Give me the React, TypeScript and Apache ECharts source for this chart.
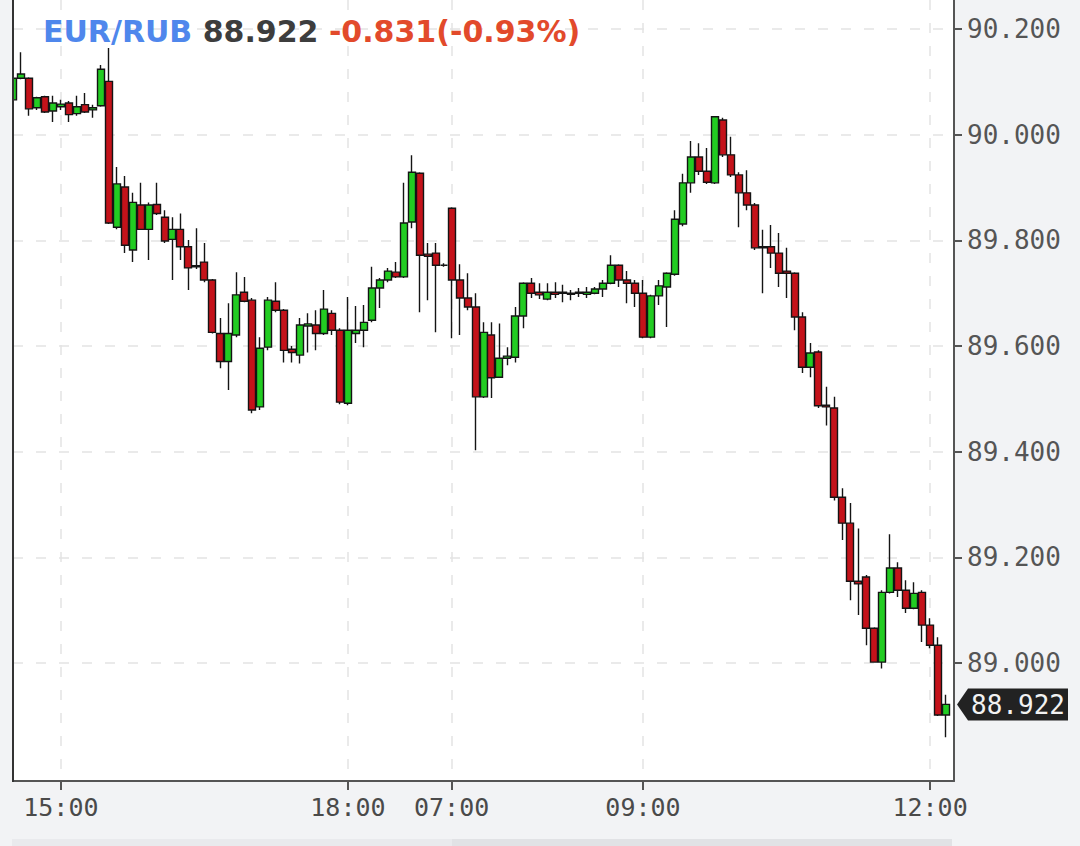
import React, { useEffect, useRef } from "react";
import * as echarts from "echarts";

// ---- data ----
const symbol = "EUR/RUB";
const prevClose = 89.753;
const sessions: [string, string][] = [
  ["14:30", "19:00"],
  ["07:00", "12:15"],
];
const tickLabels = ["15:00", "18:00", "07:00", "09:00", "12:00"];
const yTickValues = [89.0, 89.2, 89.4, 89.6, 89.8, 90.0, 90.2];
const yMin = 88.777;
const yMax = 90.255;

const opens = [
  90.066, 90.107, 90.107, 90.051, 90.072, 90.045, 90.053, 90.06, 90.04, 90.057,
  90.047, 90.055, 90.101, 89.825, 89.901, 89.782, 89.867, 89.821, 89.868, 89.844,
  89.802, 89.821, 89.788, 89.752, 89.759, 89.725, 89.624, 89.571, 89.621, 89.702,
  89.687, 89.485, 89.598, 89.685, 89.668, 89.594, 89.583, 89.638, 89.64, 89.624,
  89.662, 89.63, 89.492, 89.624, 89.63, 89.649, 89.71, 89.725, 89.74, 89.731,
  89.835, 89.927, 89.774, 89.776, 89.753, 89.861, 89.725, 89.691, 89.674, 89.504,
  89.621, 89.541, 89.577, 89.579, 89.657, 89.719, 89.702, 89.689, 89.702, 89.7,
  89.7, 89.7, 89.698, 89.7, 89.708, 89.719, 89.753, 89.725, 89.719, 89.7,
  89.617, 89.695, 89.712, 89.736, 89.831, 89.909, 89.958, 89.931, 89.909, 90.028,
  89.962, 89.924, 89.89, 89.867, 89.788, 89.788, 89.776, 89.742, 89.738, 89.655,
  89.56, 89.589, 89.488, 89.483, 89.314, 89.265, 89.155, 89.163, 89.066, 89.002,
  89.134, 89.18, 89.138, 89.104, 89.134, 89.072, 89.034, 88.902,
];
const closes = [
  90.107, 90.115, 90.049, 90.07, 90.043, 90.06, 90.058, 90.038, 90.053, 90.043,
  90.051, 90.124, 89.833, 89.907, 89.791, 89.872, 89.821, 89.867, 89.851, 89.799,
  89.821, 89.788, 89.748, 89.75, 89.725, 89.626, 89.571, 89.624, 89.697, 89.685,
  89.479, 89.596, 89.687, 89.668, 89.592, 89.588, 89.64, 89.642, 89.624, 89.67,
  89.63, 89.494, 89.63, 89.63, 89.645, 89.71, 89.725, 89.742, 89.731, 89.833,
  89.929, 89.772, 89.77, 89.753, 89.753, 89.725, 89.691, 89.674, 89.504, 89.626,
  89.54, 89.577, 89.581, 89.657, 89.719, 89.7, 89.697, 89.702, 89.698, 89.702,
  89.698, 89.702, 89.702, 89.708, 89.719, 89.753, 89.725, 89.719, 89.7, 89.617,
  89.695, 89.714, 89.738, 89.84, 89.909, 89.958, 89.931, 89.91, 90.034, 89.962,
  89.924, 89.89, 89.867, 89.786, 89.786, 89.776, 89.738, 89.738, 89.655, 89.56,
  89.587, 89.487, 89.485, 89.314, 89.265, 89.155, 89.15, 89.066, 89.002, 89.134,
  89.18, 89.138, 89.104, 89.132, 89.072, 89.034, 88.902, 88.922,
];
const highs = [
  90.118, 90.156, 90.109, 90.072, 90.074, 90.074, 90.066, 90.064, 90.074, 90.079,
  90.057, 90.132, 90.164, 89.939, 89.922, 89.89, 89.909, 89.872, 89.909, 89.857,
  89.844, 89.851, 89.801, 89.823, 89.795, 89.727, 89.653, 89.681, 89.74, 89.731,
  89.691, 89.617, 89.693, 89.721, 89.67, 89.6, 89.653, 89.662, 89.668, 89.706,
  89.668, 89.634, 89.693, 89.676, 89.678, 89.75, 89.729, 89.748, 89.759, 89.909,
  89.961, 89.929, 89.795, 89.795, 89.757, 89.863, 89.755, 89.738, 89.7, 89.645,
  89.645, 89.643, 89.598, 89.674, 89.721, 89.729, 89.719, 89.719, 89.721, 89.716,
  89.706, 89.71, 89.712, 89.712, 89.725, 89.772, 89.755, 89.742, 89.725, 89.725,
  89.697, 89.725, 89.74, 89.857, 89.926, 89.988, 89.984, 89.975, 90.035, 90.032,
  89.996, 89.929, 89.933, 89.871, 89.82, 89.829, 89.814, 89.786, 89.74, 89.664,
  89.606, 89.592, 89.523, 89.504, 89.331, 89.303, 89.255, 89.167, 89.068, 89.138,
  89.244, 89.191, 89.157, 89.153, 89.138, 89.085, 89.049, 88.94,
];
const lows = [
  90.066, 90.105, 90.036, 90.047, 90.041, 90.024, 90.047, 90.024, 90.036, 90.041,
  90.032, 90.053, 89.831, 89.821, 89.776, 89.759, 89.82, 89.763, 89.848, 89.795,
  89.725, 89.763, 89.706, 89.746, 89.721, 89.624, 89.558, 89.517, 89.617, 89.683,
  89.473, 89.479, 89.592, 89.664, 89.569, 89.569, 89.567, 89.588, 89.592, 89.621,
  89.621, 89.49, 89.488, 89.606, 89.598, 89.645, 89.672, 89.721, 89.729, 89.729,
  89.823, 89.664, 89.687, 89.626, 89.75, 89.615, 89.621, 89.668, 89.403, 89.502,
  89.502, 89.54, 89.564, 89.569, 89.634, 89.691, 89.689, 89.687, 89.691, 89.683,
  89.687, 89.693, 89.691, 89.698, 89.693, 89.717, 89.712, 89.681, 89.674, 89.615,
  89.615, 89.678, 89.636, 89.733, 89.827, 89.89, 89.924, 89.907, 89.907, 89.958,
  89.92, 89.825, 89.857, 89.782, 89.7, 89.748, 89.712, 89.691, 89.63, 89.549,
  89.541, 89.483, 89.45, 89.308, 89.233, 89.119, 89.091, 89.034, 89.002, 88.99,
  89.132, 89.125, 89.095, 89.102, 89.04, 89.028, 88.9, 88.86,
];

// ---- helpers ----
function toMin(t: string) {
  const [h, m] = t.split(":").map(Number);
  return h * 60 + m;
}
function fmt(m: number) {
  const h = Math.floor(m / 60);
  const mm = m % 60;
  return String(h).padStart(2, "0") + ":" + String(mm).padStart(2, "0");
}
function buildCategories() {
  const out: string[] = [];
  sessions.forEach(([s, e]) => {
    for (let m = toMin(s); m <= toMin(e); m += 5) out.push(fmt(m));
  });
  return out;
}

const FONT_MONO = "'DejaVu Sans Mono', monospace";
const AXIS_COLOR = "#555";
const GRID_COLOR = "#e3e3e3";
const BG = "#f2f3f5";

export default function App() {
  const ref = useRef<HTMLDivElement>(null);

  useEffect(() => {
    if (!ref.current) return;
    const chart = echarts.init(ref.current, undefined, { renderer: "svg" });
    const categories = buildCategories();
    const data = opens.map((o, i) => [o, closes[i], lows[i], highs[i]]);
    const lastClose = closes[closes.length - 1];
    const change = lastClose - prevClose;
    const pct = (change / prevClose) * 100;
    const showTick = (_i: number, v: string) => tickLabels.includes(v);

    const headerText = {
      id: "header",
      type: "text",
      x: 43,
      y: 31,
      z: 100,
      style: {
        text: `{a|${symbol}} {b|${lastClose.toFixed(3)}} {c|${change.toFixed(3)}(${pct.toFixed(2)}%)}`,
        fontFamily: "'DejaVu Sans', sans-serif",
        fontWeight: "bold",
        fontSize: 30,
        verticalAlign: "middle",
        fill: "#3d3d3d",
        rich: {
          a: { fill: "#4f87ec", color: "#4f87ec", fontFamily: "'DejaVu Sans', sans-serif", fontWeight: "bold", fontSize: 30 },
          b: { fill: "#3d3d3d", color: "#3d3d3d", fontFamily: "'DejaVu Sans', sans-serif", fontWeight: "bold", fontSize: 30 },
          c: { fill: "#e24a2b", color: "#e24a2b", fontFamily: "'DejaVu Sans', sans-serif", fontWeight: "bold", fontSize: 30 },
        },
      },
    };

    const staticGraphics = [
      headerText,
      // cover for the part of the first candle that falls left of the plot border
      { id: "leftCover", type: "rect", z: 90, shape: { x: 0, y: 0, width: 12, height: 800 }, style: { fill: BG } },
      { id: "leftBorder", type: "line", z: 91, shape: { x1: 13, y1: 0, x2: 13, y2: 782 }, style: { stroke: "#333", lineWidth: 2 } },
      { id: "sb1", type: "rect", shape: { x: 12, y: 839, width: 440, height: 7 }, style: { fill: "#e9eaed" } },
      { id: "sb2", type: "rect", shape: { x: 452, y: 839, width: 500, height: 7 }, style: { fill: "#e1e2e5" } },
    ];

    chart.setOption({
      animation: false,
      backgroundColor: BG,
      grid: {
        left: 13,
        right: 1080 - 954,
        top: 0,
        bottom: 846 - 781,
        show: true,
        backgroundColor: "#ffffff",
        borderWidth: 0,
      },
      xAxis: {
        type: "category",
        data: categories,
        boundaryGap: false,
        axisLine: { lineStyle: { color: AXIS_COLOR, width: 2 } },
        axisTick: { interval: showTick, length: 9, lineStyle: { color: AXIS_COLOR, width: 2 } },
        axisLabel: {
          interval: showTick,
          color: "#4a4a4a",
          fontFamily: FONT_MONO,
          fontSize: 25,
          margin: 14,
        },
        splitLine: {
          show: true,
          interval: showTick,
          lineStyle: { color: GRID_COLOR, type: [10, 13], width: 1.5 },
        },
      },
      yAxis: [
        {
          type: "value",
          position: "right",
          min: yMin,
          max: yMax,
          axisLine: { show: true, lineStyle: { color: AXIS_COLOR, width: 2 } },
          axisTick: { show: true, inside: false, length: 8, customValues: yTickValues, lineStyle: { color: AXIS_COLOR, width: 2 } },
          axisLabel: {
            customValues: yTickValues,
            formatter: (v: number) => v.toFixed(3),
            color: "#555",
            fontFamily: FONT_MONO,
            fontSize: 26,
            margin: 13,
          },
          splitLine: { show: true, lineStyle: { color: GRID_COLOR, type: [10, 13], width: 1.5 } },
        },
        {
          type: "value",
          position: "left",
          min: yMin,
          max: yMax,
          axisLine: { show: false },
          axisTick: { show: false },
          axisLabel: { show: false },
          splitLine: { show: false },
        },
      ],
      series: [
        {
          type: "candlestick",
          yAxisIndex: 0,
          data,
          barWidth: 7.5,
          clip: true,
          itemStyle: {
            color: "#22cc22",
            color0: "#c4121a",
            borderColor: "#141414",
            borderColor0: "#141414",
            borderWidth: 1.4,
          },
        },
      ],
      graphic: staticGraphics,
    });

    const py = chart.convertToPixel({ yAxisIndex: 0 }, lastClose) as number;
    chart.setOption({
      graphic: [
        ...staticGraphics,
        {
          id: "tag",
          type: "polygon",
          z: 100,
          shape: {
            points: [
              [957, py],
              [968, py - 16],
              [1068, py - 16],
              [1068, py + 16],
              [968, py + 16],
            ],
          },
          style: { fill: "#222222" },
        },
        {
          id: "tagText",
          type: "text",
          z: 101,
          x: 1018,
          y: py + 1,
          style: {
            text: lastClose.toFixed(3),
            fill: "#f2f2f2",
            fontFamily: FONT_MONO,
            fontSize: 26,
            align: "center",
            verticalAlign: "middle",
          },
        },
      ],
    });

    return () => chart.dispose();
  }, []);

  return (
    <div
      ref={ref}
      style={{ position: "fixed", left: 0, top: 0, width: 1080, height: 846, background: BG }}
    />
  );
}
